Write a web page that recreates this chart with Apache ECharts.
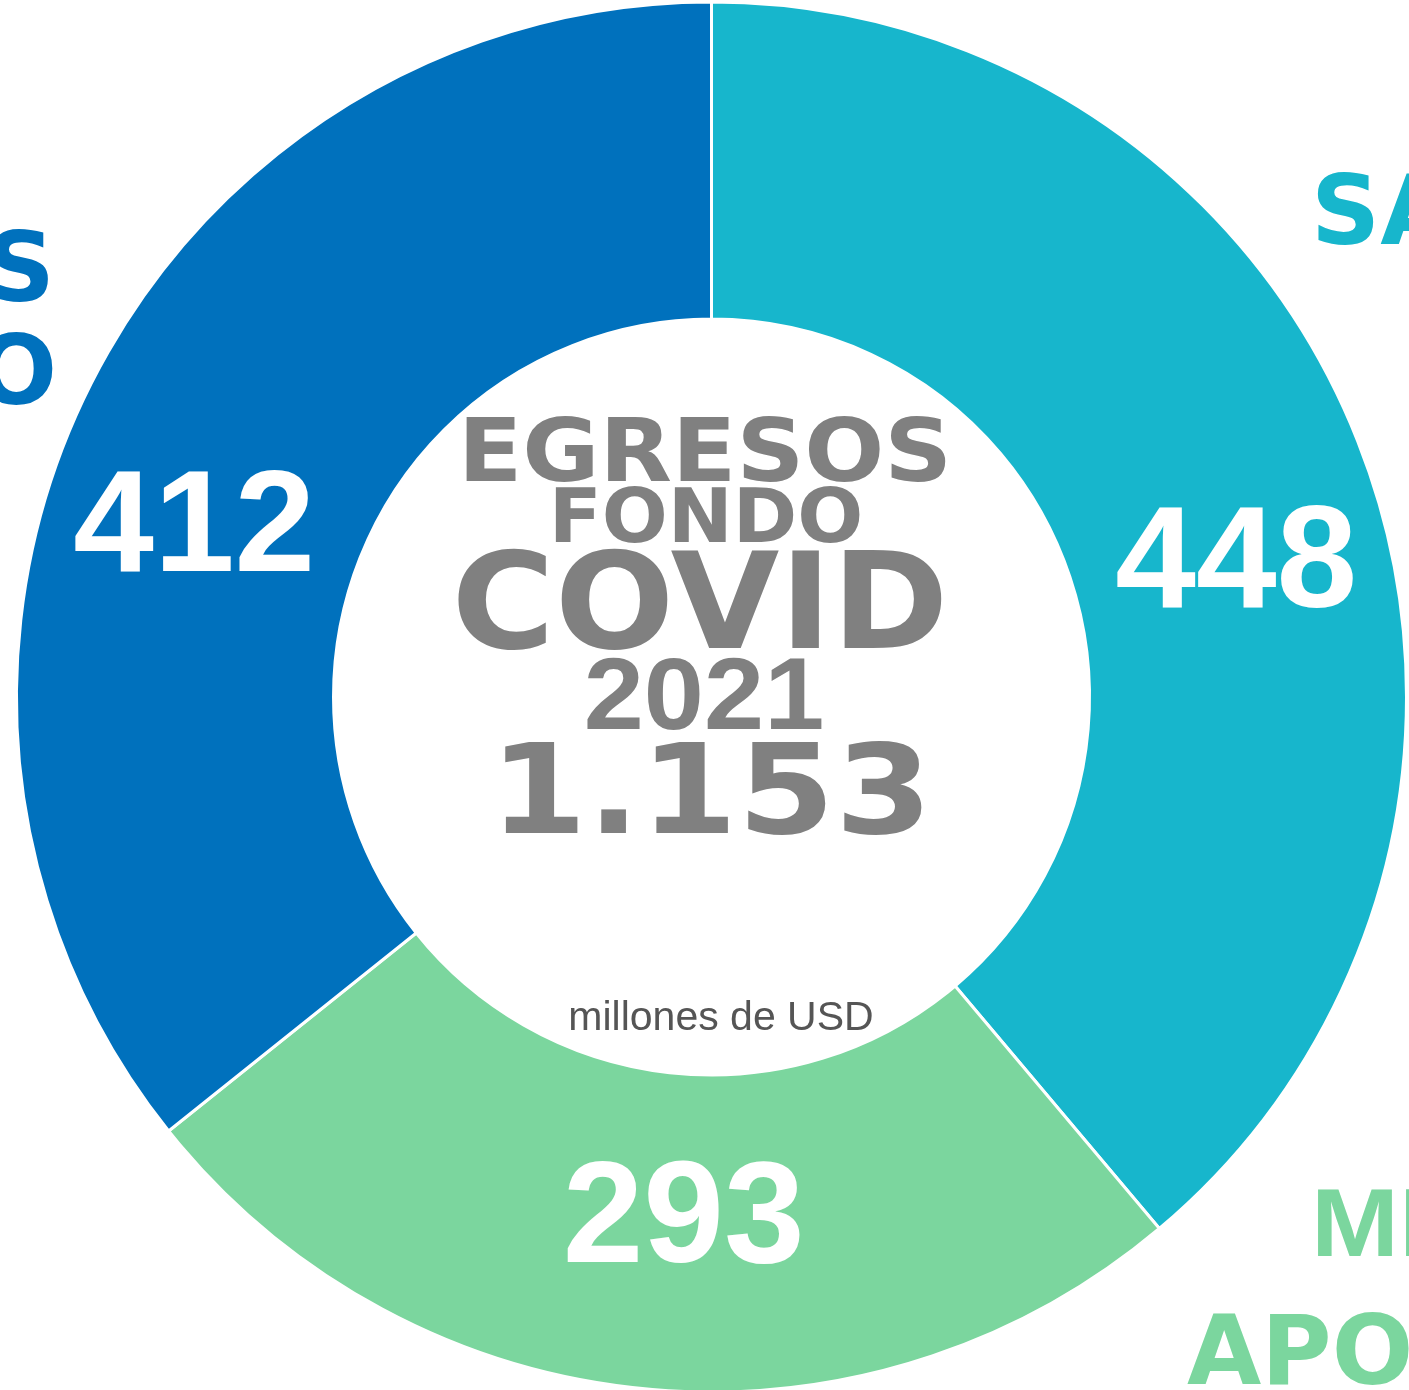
<!DOCTYPE html>
<html><head><meta charset="utf-8">
<script src="https://cdn.jsdelivr.net/npm/echarts@6/dist/echarts.min.js"></script>
<style>html,body{margin:0;padding:0;background:#fff}#c{width:1409px;height:1390px}</style>
</head><body><div id="c"></div>
<script>
const categories = ['SALUD', 'MEDIDAS DE APOYO', 'PROTECCIÓN DEL EMPLEO'];
const values = [448, 293, 412];
const colors = ['#17B6CC', '#7BD69E', '#0071BD'];
const centerLines = ['EGRESOS', 'FONDO', 'COVID', '2021', '1.153', 'millones de USD'];

const chart = echarts.init(document.getElementById('c'), null, {renderer: 'canvas'});
const labelShift = [[18, 55], [25, -12], [-31, 68]];

function t(text, x, y, size, color, opts) {
  opts = opts || {};
  return {
    type: 'text', x: x, y: y, scaleX: opts.sx || 1, originX: 0, originY: 0, z: 10,
    style: {
      text: text, fill: color, fontSize: size,
      fontFamily: opts.ff || 'DejaVu Sans', fontWeight: opts.fw || 'bold',
      align: opts.align || 'left', verticalAlign: 'middle'
    }
  };
}

chart.setOption({
  animation: false,
  series: [{
    type: 'pie',
    center: [711.5, 697],
    radius: [378, 695],
    startAngle: 90,
    clockwise: true,
    itemStyle: {borderColor: '#fff', borderWidth: 3},
    label: {
      show: true, position: 'inside', formatter: '{c}',
      color: '#fff', fontSize: 145, fontWeight: 'bold', fontFamily: 'Liberation Sans'
    },
    labelLine: {show: false},
    labelLayout: function (p) {
      const s = labelShift[p.dataIndex];
      return {dx: s[0], dy: s[1]};
    },
    emphasis: {disabled: true},
    data: categories.map((c, i) => ({name: c, value: values[i], itemStyle: {color: colors[i]}}))
  }],
  graphic: [
    t(centerLines[0], 705, 458, 88, '#808080', {align: 'center', sx: 1.07}),
    t(centerLines[1], 706, 523, 74, '#808080', {align: 'center', sx: 1.05}),
    t(centerLines[2], 700, 613, 134, '#808080', {align: 'center', sx: 1.05}),
    t(centerLines[3], 704, 701, 102, '#808080', {align: 'center', ff: 'Liberation Sans', sx: 1.06}),
    t(centerLines[4], 711, 801, 124, '#808080', {align: 'center', sx: 1.13}),
    t(centerLines[5], 721, 1019, 41, '#555555', {align: 'center', ff: 'Liberation Sans', fw: 'normal'}),
    t('SALUD', 1311, 219, 96, '#17B6CC'),
    t('MEDIDAS DE', 1311, 1230, 96, '#7BD69E', {ff: 'Liberation Sans', sx: 1.1}),
    t('APOYO', 1187, 1359, 96, '#7BD69E'),
    t('EMPLEOS', 55, 276, 96, '#0071BD', {align: 'right'}),
    t('PRODUCTIVO', 57, 379, 96, '#0071BD', {align: 'right'})
  ]
});
</script></body></html>
